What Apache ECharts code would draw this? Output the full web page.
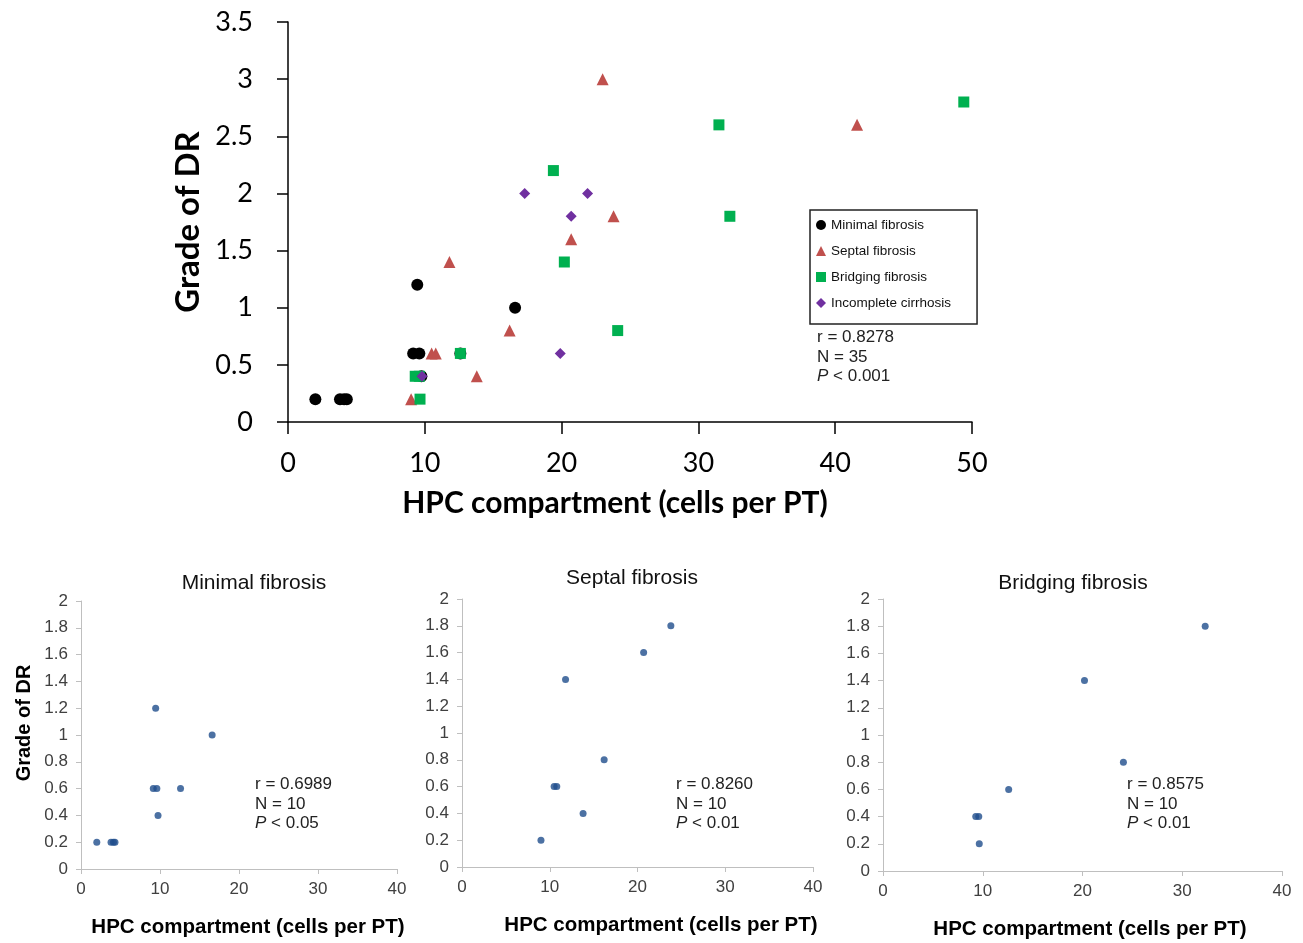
<!DOCTYPE html>
<html>
<head>
<meta charset="UTF-8">
<title>Grade of DR vs HPC compartment</title>
<script src="https://cdn.jsdelivr.net/npm/echarts@6/dist/echarts.min.js"></script>
<style>
  html, body { margin: 0; padding: 0; background: #fff; }
  #container { width: 1303px; height: 943px; }
</style>
</head>
<body>
<div id="container"></div>
<script type="text/javascript">
// data: [HPC cells per PT, grade of DR]
var minimalFibrosis = [[2.0, 0.2], [3.8, 0.2], [4.1, 0.2], [4.3, 0.2], [9.15, 0.6], [9.6, 0.6], [12.6, 0.6], [9.75, 0.4], [9.45, 1.2], [16.6, 1.0]];
var septalFibrosis = [[9.0, 0.2], [10.5, 0.6], [10.8, 0.6], [13.8, 0.4], [16.2, 0.8], [11.8, 1.4], [20.7, 1.6], [23.8, 1.8], [23.0, 3.0], [41.6, 2.6]];
var bridgingFibrosis = [[9.3, 0.4], [9.6, 0.4], [9.65, 0.2], [12.6, 0.6], [20.2, 1.4], [24.1, 0.8], [32.3, 1.8], [19.4, 2.2], [31.5, 2.6], [49.4, 2.8]];
var incompleteCirrhosis = [[17.3, 2.0], [21.9, 2.0], [20.7, 1.8], [19.9, 0.6], [9.8, 0.4]];

var seriesNames = ['Minimal fibrosis', 'Septal fibrosis', 'Bridging fibrosis', 'Incomplete cirrhosis'];
var panelTitles = ['Minimal fibrosis', 'Septal fibrosis', 'Bridging fibrosis'];
var mainStats = ['r = 0.8278', 'N = 35', '0.001'];
var panelStats = [
    ['r = 0.6989', 'N = 10', '0.05'],
    ['r = 0.8260', 'N = 10', '0.01'],
    ['r = 0.8575', 'N = 10', '0.01']
];

var myChart = echarts.init(document.getElementById('container'));

var mainFont = 'Lato, "Open Sans", sans-serif';
var panelFont = '"Liberation Sans", Arial, sans-serif';

// lower panel geometry
var panels = [
    {left: 81, top: 601, width: 316, height: 268, titleX: 254, titleY: 583, statX: 255, nameX: 248},
    {left: 462, top: 599, width: 351, height: 268, titleX: 632, titleY: 578, statX: 676, nameX: 661},
    {left: 883, top: 599, width: 399, height: 272, titleX: 1073, titleY: 583, statX: 1127, nameX: 1090}
];
var panelData = [minimalFibrosis, septalFibrosis, bridgingFibrosis];

var grids = [{left: 288, top: 22, width: 684, height: 400}];
var xAxes = [{
    gridIndex: 0, type: 'value', min: 0, max: 50, interval: 10,
    name: 'HPC compartment (cells per PT)', nameLocation: 'middle', nameGap: 66,
    nameTextStyle: {fontFamily: mainFont, fontSize: 30, fontWeight: 'bold', color: '#000', padding: [0, 30, 0, 0]},
    axisLine: {lineStyle: {color: '#000', width: 1.5}},
    axisTick: {length: 12, lineStyle: {color: '#000', width: 1.5}},
    axisLabel: {fontFamily: mainFont, fontSize: 27, color: '#000', margin: 28},
    splitLine: {show: false}
}];
var yAxes = [{
    gridIndex: 0, type: 'value', min: 0, max: 3.5, interval: 0.5,
    name: 'Grade of DR', nameLocation: 'middle', nameGap: 76, nameRotate: 90,
    nameTextStyle: {fontFamily: mainFont, fontSize: 33, fontWeight: 'bold', color: '#000'},
    axisLine: {show: true, lineStyle: {color: '#000', width: 1.5}},
    axisTick: {show: true, length: 11, lineStyle: {color: '#000', width: 1.5}},
    axisLabel: {fontFamily: mainFont, fontSize: 27, color: '#000', margin: 35},
    splitLine: {show: false}
}];

var markerStyles = [
    {symbol: 'circle', symbolSize: 12, color: '#000000'},
    {symbol: 'triangle', symbolSize: 12, color: '#c0504d'},
    {symbol: 'rect', symbolSize: 11, color: '#00b050'},
    {symbol: 'diamond', symbolSize: 11, color: '#7030a0'}
];
var mainData = [minimalFibrosis, septalFibrosis, bridgingFibrosis, incompleteCirrhosis];

var series = [];
for (var i = 0; i < mainData.length; i++) {
    series.push({
        name: seriesNames[i],
        type: 'scatter',
        xAxisIndex: 0, yAxisIndex: 0,
        symbol: markerStyles[i].symbol,
        symbolSize: markerStyles[i].symbolSize,
        itemStyle: {color: markerStyles[i].color, opacity: 1},
        data: mainData[i]
    });
}

var graphics = [];

function statText(x, y, lines, size) {
    graphics.push({
        type: 'text', x: x, y: y,
        style: {
            text: lines[0] + '\n' + lines[1] + '\n{i|P} < ' + lines[2],
            fontFamily: panelFont, fontSize: size, lineHeight: 19.5, fill: '#222',
            rich: {i: {fontStyle: 'italic', fontFamily: panelFont, fontSize: size, fill: '#222'}}
        }
    });
}
statText(817, 328, mainStats, 17);

for (var p = 0; p < panels.length; p++) {
    var g = panels[p];
    var idx = p + 1;
    grids.push({left: g.left, top: g.top, width: g.width, height: g.height});
    xAxes.push({
        gridIndex: idx, type: 'value', min: 0, max: 40, interval: 10,
        name: 'HPC compartment (cells per PT)', nameLocation: 'middle', nameGap: 48,
        nameTextStyle: {fontFamily: panelFont, fontSize: 20.5, fontWeight: 'bold', color: '#000',
            padding: [0, 0, 0, 2 * (g.nameX - (g.left + g.width / 2))]},
        axisLine: {lineStyle: {color: '#bfbfbf', width: 1}},
        axisTick: {length: 5, lineStyle: {color: '#bfbfbf'}},
        axisLabel: {fontFamily: panelFont, fontSize: 17, color: '#404040', margin: 12},
        splitLine: {show: false}
    });
    yAxes.push({
        gridIndex: idx, type: 'value', min: 0, max: 2, interval: 0.2,
        name: p === 0 ? 'Grade of DR' : '', nameLocation: 'middle', nameGap: 47, nameRotate: 90,
        nameTextStyle: {fontFamily: panelFont, fontSize: 20, fontWeight: 'bold', color: '#000', padding: [0, 0, 0, 24]},
        axisLine: {show: true, lineStyle: {color: '#bfbfbf', width: 1}},
        axisTick: {show: true, length: 5, lineStyle: {color: '#bfbfbf'}},
        axisLabel: {fontFamily: panelFont, fontSize: 17, color: '#404040', margin: 13},
        splitLine: {show: false}
    });
    series.push({
        type: 'scatter',
        xAxisIndex: idx, yAxisIndex: idx,
        symbol: 'circle', symbolSize: 7,
        clip: true,
        itemStyle: {color: '#1f4e8c'},
        data: panelData[p]
    });
    graphics.push({
        type: 'text', x: g.titleX, y: g.titleY,
        style: {text: panelTitles[p], fontFamily: panelFont, fontSize: 21, fill: '#111',
            align: 'center', verticalAlign: 'middle'}
    });
    statText(g.statX, 775, panelStats[p], 17);
}

var option = {
    backgroundColor: '#fff',
    animation: false,
    grid: grids,
    xAxis: xAxes,
    yAxis: yAxes,
    legend: {
        data: seriesNames,
        orient: 'vertical',
        left: 810, top: 210,
        padding: [7, 26, 13, 6],
        itemGap: 10,
        itemWidth: 10, itemHeight: 10,
        itemTextGap: 23,
        borderColor: '#222', borderWidth: 1.5,
        textStyle: {fontFamily: panelFont, fontSize: 13.5, color: '#111', lineHeight: 16}
    },
    graphic: graphics,
    series: series
};
myChart.setOption(option);
</script>
</body>
</html>
